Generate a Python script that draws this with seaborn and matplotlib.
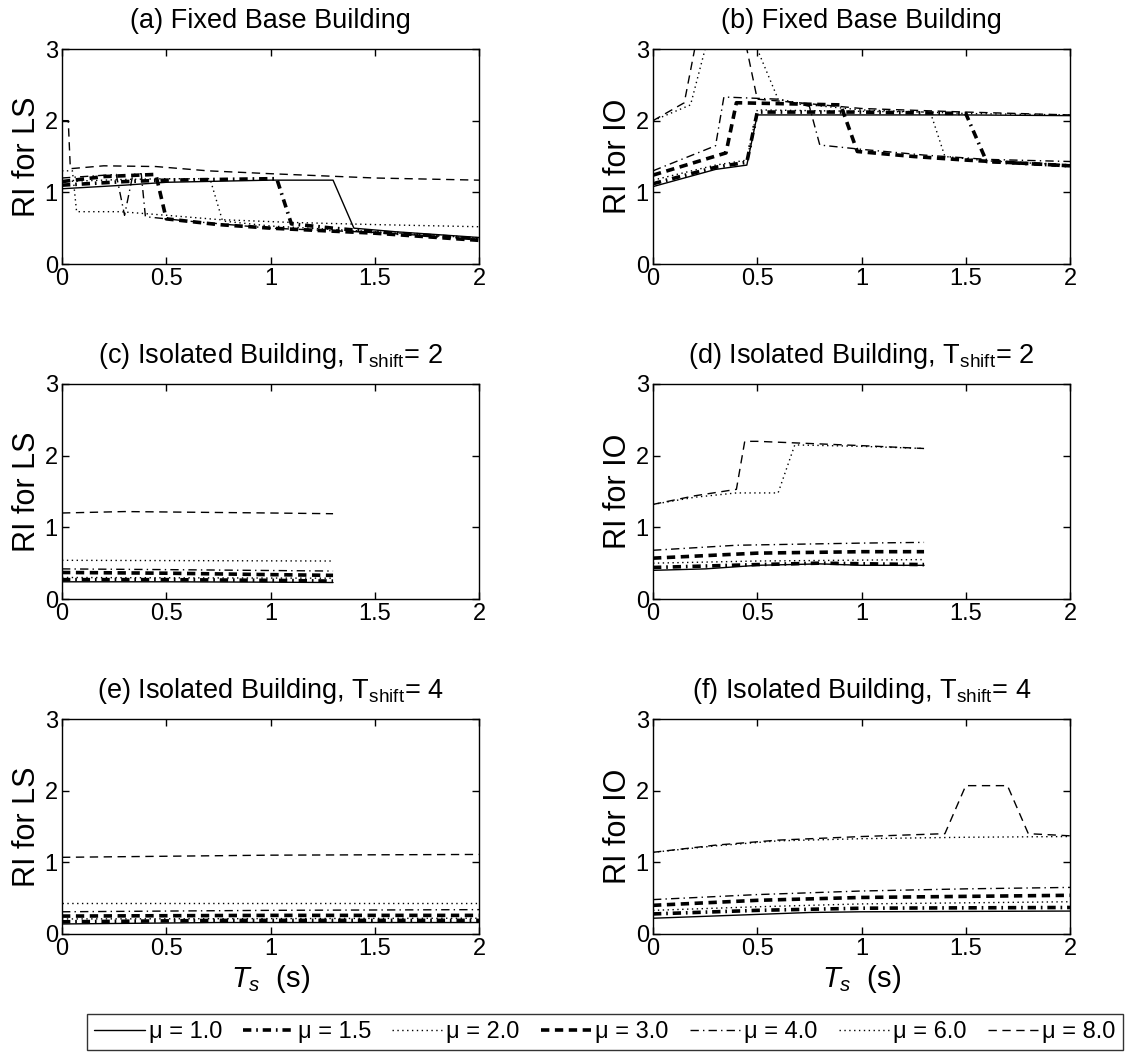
import numpy as np
import pandas as pd
import matplotlib
matplotlib.use("Agg")
import matplotlib.pyplot as plt
from matplotlib.lines import Line2D
import seaborn as sns

# ---------------------------------------------------------------- data
MU_LABELS = ["μ = 1.0", "μ = 1.5", "μ = 2.0", "μ = 3.0", "μ = 4.0", "μ = 6.0", "μ = 8.0"]

# (a) fixed base, LS
A_T = {
    "μ = 1.0": [0, 0.3, 0.5, 1.0, 1.3, 1.4, 1.6, 2.0],
    "μ = 1.5": [0, 0.3, 0.5, 1.0, 1.03, 1.1, 1.3, 1.5, 2.0],
    "μ = 2.0": [0, 0.3, 0.5, 0.71, 0.77, 1.0, 1.5, 2.0],
    "μ = 3.0": [0, 0.2, 0.45, 0.5, 0.75, 1.0, 1.5, 2.0],
    "μ = 4.0": [0, 0.26, 0.3, 0.34, 0.38, 0.4, 0.6, 1.0, 1.5, 2.0],
    "μ = 6.0": [0, 0.05, 0.07, 0.28, 0.5, 0.75, 1.1, 1.5, 2.0],
    "μ = 8.0": [0, 0.03, 0.04, 0.2, 0.45, 0.7, 1.0, 1.5, 2.0],
}
A_RI = {
    "μ = 1.0": [1.05, 1.1, 1.14, 1.17, 1.17, 0.5, 0.45, 0.37],
    "μ = 1.5": [1.1, 1.15, 1.17, 1.19, 1.19, 0.56, 0.5, 0.45, 0.35],
    "μ = 2.0": [1.15, 1.18, 1.19, 1.19, 0.6, 0.53, 0.45, 0.36],
    "μ = 3.0": [1.15, 1.22, 1.25, 0.63, 0.55, 0.5, 0.43, 0.33],
    "μ = 4.0": [1.2, 1.25, 0.68, 1.25, 1.26, 0.66, 0.6, 0.5, 0.44, 0.35],
    "μ = 6.0": [1.3, 1.3, 0.73, 0.73, 0.68, 0.62, 0.58, 0.55, 0.52],
    "μ = 8.0": [2.0, 2.0, 1.33, 1.37, 1.36, 1.3, 1.26, 1.2, 1.17],
}

# (b) fixed base, IO
B_T = {
    "μ = 1.0": [0, 0.3, 0.45, 0.5, 1.0, 1.5, 2.0],
    "μ = 1.5": [0, 0.3, 0.45, 0.5, 1.0, 1.5, 1.6, 2.0],
    "μ = 2.0": [0, 0.3, 0.45, 0.5, 1.0, 1.33, 1.4, 1.6, 2.0],
    "μ = 3.0": [0, 0.35, 0.4, 0.9, 0.98, 1.25, 1.5, 2.0],
    "μ = 4.0": [0, 0.3, 0.34, 0.6, 0.75, 0.8, 1.0, 1.3, 1.6, 2.0],
    "μ = 6.0": [0, 0.18, 0.25, 0.5, 0.6, 0.75, 1.0, 1.5, 2.0],
    "μ = 8.0": [0, 0.15, 0.2, 0.45, 0.5, 0.7, 1.0, 1.5, 2.0],
}
B_RI = {
    "μ = 1.0": [1.08, 1.32, 1.38, 2.08, 2.08, 2.08, 2.07],
    "μ = 1.5": [1.12, 1.35, 1.42, 2.12, 2.12, 2.1, 1.43, 1.37],
    "μ = 2.0": [1.17, 1.38, 1.45, 2.15, 2.13, 2.12, 1.5, 1.44, 1.38],
    "μ = 3.0": [1.24, 1.55, 2.25, 2.22, 1.57, 1.5, 1.45, 1.37],
    "μ = 4.0": [1.3, 1.65, 2.33, 2.3, 2.2, 1.66, 1.6, 1.52, 1.46, 1.43],
    "μ = 6.0": [2.0, 2.22, 3.0, 3.0, 2.3, 2.22, 2.15, 2.1, 2.08],
    "μ = 8.0": [2.0, 2.25, 3.0, 3.0, 2.3, 2.25, 2.17, 2.12, 2.08],
}

# (c) isolated, T_shift = 2, LS
C_T = {
    "μ = 1.0": [0, 0.5, 1.0, 1.3],
    "μ = 1.5": [0, 0.5, 1.0, 1.3],
    "μ = 2.0": [0, 1.3],
    "μ = 3.0": [0, 0.5, 1.0, 1.3],
    "μ = 4.0": [0, 0.5, 1.3],
    "μ = 6.0": [0, 1.3],
    "μ = 8.0": [0, 0.3, 1.0, 1.3],
}
C_RI = {
    "μ = 1.0": [0.24, 0.24, 0.235, 0.23],
    "μ = 1.5": [0.27, 0.27, 0.26, 0.25],
    "μ = 2.0": [0.30, 0.29],
    "μ = 3.0": [0.37, 0.36, 0.34, 0.33],
    "μ = 4.0": [0.42, 0.41, 0.39],
    "μ = 6.0": [0.54, 0.53],
    "μ = 8.0": [1.2, 1.22, 1.2, 1.19],
}

# (d) isolated, T_shift = 2, IO
D_T = {
    "μ = 1.0": [0, 0.25, 0.5, 0.8, 1.0, 1.3],
    "μ = 1.5": [0, 0.5, 0.8, 1.3],
    "μ = 2.0": [0, 0.5, 1.3],
    "μ = 3.0": [0, 0.5, 1.0, 1.3],
    "μ = 4.0": [0, 0.4, 1.0, 1.3],
    "μ = 6.0": [0, 0.2, 0.4, 0.6, 0.68, 1.0, 1.3],
    "μ = 8.0": [0, 0.2, 0.4, 0.44, 0.5, 0.75, 1.0, 1.3],
}
D_RI = {
    "μ = 1.0": [0.40, 0.42, 0.47, 0.49, 0.47, 0.47],
    "μ = 1.5": [0.44, 0.48, 0.5, 0.48],
    "μ = 2.0": [0.5, 0.53, 0.55],
    "μ = 3.0": [0.57, 0.64, 0.66, 0.66],
    "μ = 4.0": [0.68, 0.75, 0.78, 0.79],
    "μ = 6.0": [1.32, 1.42, 1.48, 1.48, 2.15, 2.13, 2.1],
    "μ = 8.0": [1.32, 1.44, 1.53, 2.2, 2.2, 2.17, 2.14, 2.1],
}

# (e) isolated, T_shift = 4, LS
E_T = {
    "μ = 1.0": [0, 0.75, 2.0],
    "μ = 1.5": [0, 0.75, 2.0],
    "μ = 2.0": [0, 2.0],
    "μ = 3.0": [0, 1.0, 2.0],
    "μ = 4.0": [0, 1.0, 2.0],
    "μ = 6.0": [0, 2.0],
    "μ = 8.0": [0, 1.0, 2.0],
}
E_RI = {
    "μ = 1.0": [0.14, 0.16, 0.16],
    "μ = 1.5": [0.17, 0.19, 0.19],
    "μ = 2.0": [0.21, 0.22],
    "μ = 3.0": [0.25, 0.26, 0.26],
    "μ = 4.0": [0.31, 0.33, 0.34],
    "μ = 6.0": [0.43, 0.43],
    "μ = 8.0": [1.07, 1.1, 1.11],
}

# (f) isolated, T_shift = 4, IO
F_T = {
    "μ = 1.0": [0, 0.75, 1.0, 2.0],
    "μ = 1.5": [0, 0.5, 1.0, 2.0],
    "μ = 2.0": [0, 0.5, 1.0, 2.0],
    "μ = 3.0": [0, 0.5, 1.0, 2.0],
    "μ = 4.0": [0, 0.5, 1.0, 1.5, 2.0],
    "μ = 6.0": [0, 0.3, 0.6, 1.0, 1.5, 2.0],
    "μ = 8.0": [0, 0.3, 0.6, 1.0, 1.4, 1.5, 1.7, 1.8, 2.0],
}
F_RI = {
    "μ = 1.0": [0.22, 0.3, 0.31, 0.32],
    "μ = 1.5": [0.28, 0.33, 0.36, 0.37],
    "μ = 2.0": [0.33, 0.38, 0.42, 0.45],
    "μ = 3.0": [0.4, 0.47, 0.51, 0.54],
    "μ = 4.0": [0.48, 0.55, 0.6, 0.63, 0.65],
    "μ = 6.0": [1.14, 1.23, 1.3, 1.33, 1.35, 1.36],
    "μ = 8.0": [1.14, 1.24, 1.31, 1.36, 1.4, 2.07, 2.07, 1.4, 1.37],
}

TITLES = [
    "(a) Fixed Base Building",
    "(b) Fixed Base Building",
    "(c) Isolated Building, T$_{\\mathrm{shift}}$= 2",
    "(d) Isolated Building, T$_{\\mathrm{shift}}$= 2",
    "(e) Isolated Building, T$_{\\mathrm{shift}}$= 4",
    "(f) Isolated Building, T$_{\\mathrm{shift}}$= 4",
]
YLABELS = ["RI for LS", "RI for IO"] * 3
X_TICKS = [0, 0.5, 1, 1.5, 2]
Y_TICKS = [0, 1, 2, 3]

# ---------------------------------------------------------------- styles
DASHES = {
    "μ = 1.0": "",
    "μ = 1.5": (6, 3.5, 1.2, 3.5),
    "μ = 2.0": (1, 2.5),
    "μ = 3.0": (6, 4),
    "μ = 4.0": (6, 3, 1, 3),
    "μ = 6.0": (1, 2.5),
    "μ = 8.0": (6, 4),
}
WIDTHS = {
    "μ = 1.0": 1.0,
    "μ = 1.5": 2.6,
    "μ = 2.0": 1.0,
    "μ = 3.0": 2.6,
    "μ = 4.0": 1.0,
    "μ = 6.0": 1.0,
    "μ = 8.0": 1.0,
}

sns.set_theme(style="white")
plt.rcParams.update({
    "font.family": ["Liberation Sans", "DejaVu Sans"],
    "mathtext.fontset": "custom",
    "mathtext.rm": "Liberation Sans",
    "mathtext.it": "Liberation Sans:italic",
    "mathtext.bf": "Liberation Sans:bold",
    "lines.scale_dashes": False,
    "text.color": "black",
    "axes.labelcolor": "black",
    "axes.titlecolor": "black",
    "axes.edgecolor": "black",
    "axes.linewidth": 1.0,
    "xtick.direction": "in",
    "ytick.direction": "in",
    "xtick.bottom": True,
    "ytick.left": True,
    "xtick.top": True,
    "ytick.right": True,
    "xtick.major.size": 5,
    "ytick.major.size": 5,
    "xtick.major.width": 1.0,
    "ytick.major.width": 1.0,
    "xtick.color": "black",
    "ytick.color": "black",
    "xtick.labelcolor": "black",
    "ytick.labelcolor": "black",
})


def long_frame(t_map, ri_map):
    rows = []
    for mu in MU_LABELS:
        for t, v in zip(t_map[mu], ri_map[mu]):
            rows.append({"T": t, "RI": v, "mu": mu})
    return pd.DataFrame(rows)


panels = [(A_T, A_RI), (B_T, B_RI), (C_T, C_RI), (D_T, D_RI), (E_T, E_RI), (F_T, F_RI)]

fig = plt.figure(figsize=(11.3, 10.53), dpi=100)
W, H = 1130, 1053
lefts = [62, 653]
tops = [49, 384, 719]
aw, ah = 417, 215

for i, (t_map, ri_map) in enumerate(panels):
    r, c = divmod(i, 2)
    ax = fig.add_axes([lefts[c] / W, 1 - (tops[r] + ah) / H, aw / W, ah / H])
    df = long_frame(t_map, ri_map)
    sns.lineplot(
        data=df, x="T", y="RI", style="mu", size="mu",
        style_order=MU_LABELS, size_order=MU_LABELS,
        dashes=DASHES, sizes=WIDTHS, color="black",
        estimator=None, sort=False, legend=False, ax=ax,
    )
    ax.set_xlim(0, 2)
    ax.set_ylim(0, 3)
    ax.set_xticks(X_TICKS)
    ax.set_xticklabels(["0", "0.5", "1", "1.5", "2"])
    ax.set_yticks(Y_TICKS)
    ax.tick_params(axis="both", which="major", direction="in", length=5,
                   width=1.0, color="black", labelsize=17, pad=3,
                   bottom=True, left=True, top=True, right=True)
    for sp in ax.spines.values():
        sp.set_visible(True)
        sp.set_color("black")
    ax.set_title(TITLES[i], fontsize=19.5, pad=15)
    ax.set_ylabel(YLABELS[i], fontsize=22, labelpad=2)
    if r == 2:
        ax.set_xlabel("$T_s$  (s)", fontsize=21, labelpad=2)
    else:
        ax.set_xlabel("")

handles = []
for mu in MU_LABELS:
    h = Line2D([], [], color="black", lw=WIDTHS[mu], linestyle="-")
    if DASHES[mu]:
        h.set_dashes(DASHES[mu])
    handles.append(h)
leg = fig.legend(
    handles, MU_LABELS, loc="center", bbox_to_anchor=(605 / W, 1 - 1032 / H),
    ncol=7, fontsize=17, frameon=True, fancybox=False, handlelength=2.15,
    handletextpad=0.15, columnspacing=0.9, borderpad=0.3,
)
leg.get_frame().set_edgecolor("black")
leg.get_frame().set_linewidth(1.0)

fig.savefig("out.png", dpi=100)
